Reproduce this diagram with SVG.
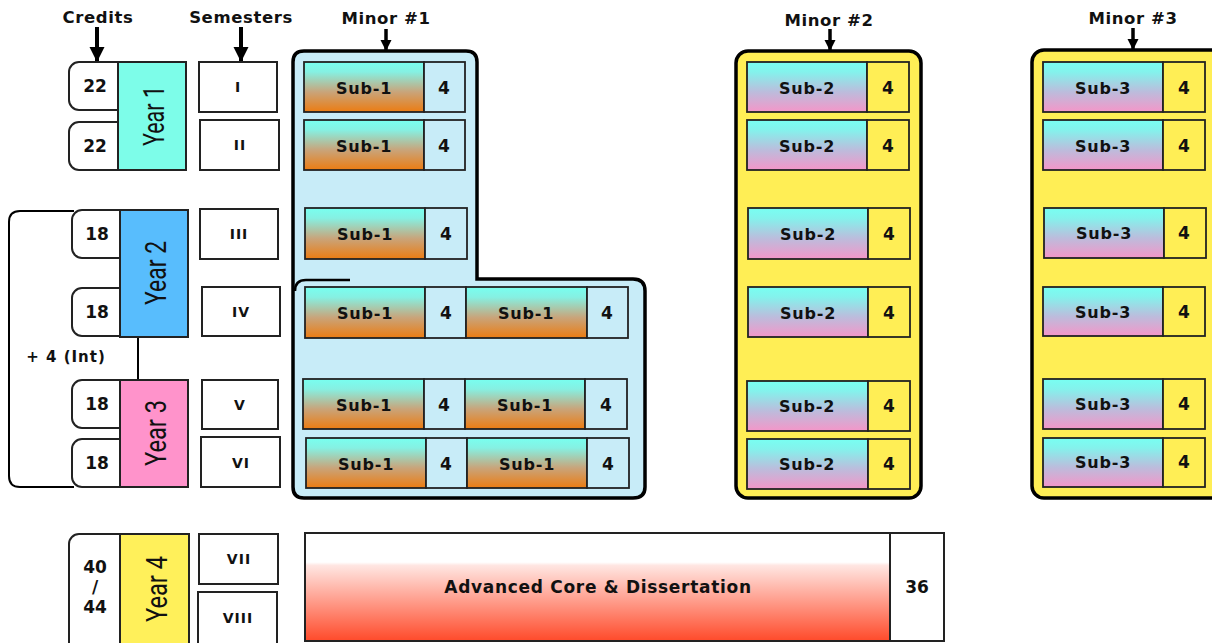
<svg xmlns="http://www.w3.org/2000/svg" width="1212" height="643" viewBox="0 0 1212 643">
<style>
.lbl{font-family:"DejaVu Sans","Liberation Sans",sans-serif;font-weight:bold;fill:#111;text-anchor:middle;dominant-baseline:central}
.hd{font-size:16.5px;letter-spacing:0.6px}
.sub{font-size:16px;letter-spacing:0.8px}
.num{font-size:17px}
.rom{font-size:14px;letter-spacing:1px}
.yr{font-family:"Roboto","Liberation Sans",sans-serif;font-weight:400;font-size:30px;fill:#111;text-anchor:middle;dominant-baseline:central}
.cell{stroke:#222;stroke-width:1.8}
.box{fill:#fff;stroke:#222;stroke-width:2}
.cred{fill:#fff;stroke:#222;stroke-width:2}
.cont{stroke:#000;stroke-width:3.5}
.g1{fill:url(#gSub1)}
.g2{fill:url(#gSub2)}
.n1{fill:#c8ecf8}
.n2{fill:#ffee55}
.conn{stroke:#000;fill:none}
</style>
<defs>
<linearGradient id="gSub1" x1="0" y1="0" x2="0" y2="1">
<stop offset="0" stop-color="#78fff0"/><stop offset="0.2" stop-color="#86f0e2"/><stop offset="0.6" stop-color="#c9a47a"/><stop offset="1" stop-color="#ec7c12"/>
</linearGradient>
<linearGradient id="gSub2" x1="0" y1="0" x2="0" y2="1">
<stop offset="0" stop-color="#78fff2"/><stop offset="0.2" stop-color="#84f2ec"/><stop offset="0.6" stop-color="#bcbcdc"/><stop offset="1" stop-color="#f496c8"/>
</linearGradient>
<linearGradient id="gCore" x1="0" y1="0" x2="0" y2="1">
<stop offset="0" stop-color="#ffffff"/><stop offset="0.27" stop-color="#ffffff"/><stop offset="0.3" stop-color="#ffe6e2"/><stop offset="1" stop-color="#ff4a2a"/>
</linearGradient>
<marker id="bigArrow" viewBox="0 0 10 10" refX="10" refY="5" markerUnits="userSpaceOnUse" markerWidth="15" markerHeight="21" orient="auto">
<path d="M0,0 L10,5 L0,10 Z" fill="#000"/>
</marker>
<marker id="smallArrow" viewBox="0 0 10 10" refX="10" refY="5" markerUnits="userSpaceOnUse" markerWidth="11" markerHeight="18" orient="auto">
<path d="M0,0 L10,5 L0,10 Z" fill="#000"/>
</marker>
</defs>

<rect width="1212" height="643" fill="#fff"/>

<!-- headers -->
<g id="headers">
<text class="lbl hd" x="98" y="17">Credits</text>
<text class="lbl hd" x="241" y="17">Semesters</text>
<text class="lbl hd" x="386" y="18">Minor #1</text>
<text class="lbl hd" x="829" y="20">Minor #2</text>
<text class="lbl hd" x="1133" y="18">Minor #3</text>
</g>

<!-- connectors -->
<g id="connectors">
<line class="conn" x1="97" y1="27" x2="97" y2="62" stroke-width="4" marker-end="url(#bigArrow)"/>
<line class="conn" x1="241" y1="27" x2="241" y2="62" stroke-width="4" marker-end="url(#bigArrow)"/>
<line class="conn" x1="386" y1="29" x2="386" y2="51" stroke-width="3.5" marker-end="url(#smallArrow)"/>
<line class="conn" x1="830" y1="29" x2="830" y2="51" stroke-width="3.5" marker-end="url(#smallArrow)"/>
<line class="conn" x1="1133" y1="28" x2="1133" y2="50" stroke-width="3.5" marker-end="url(#smallArrow)"/>
<path class="conn" d="M74,211 H20 Q9,211 9,222 V476 Q9,487 20,487 H74" stroke-width="2"/>
<line class="conn" x1="138" y1="337" x2="138" y2="380" stroke-width="2"/>
<text class="lbl" x="66" y="357" font-size="15" letter-spacing="1">+ 4 (Int)</text>
</g>

<!-- Year 1 -->
<g id="year1">
<rect class="cred" x="69" y="62" width="60" height="48" rx="10"/>
<rect class="cred" x="69" y="122" width="60" height="48" rx="10"/>
<text class="lbl num" x="95" y="86">22</text>
<text class="lbl num" x="95" y="146">22</text>
<rect x="118" y="62" width="68" height="108" fill="#7dfde9" stroke="#222" stroke-width="2"/>
<text class="yr" transform="translate(153,116) rotate(-90)" textLength="60" lengthAdjust="spacingAndGlyphs">Year 1</text>
</g>
<g id="sem1"><rect class="box" x="199" y="62" width="78" height="50"/><text class="lbl rom" x="238" y="87">I</text></g>
<g id="sem2"><rect class="box" x="200" y="120" width="79" height="50"/><text class="lbl rom" x="240" y="145">II</text></g>

<!-- Year 2 -->
<g id="year2">
<rect class="cred" x="72" y="210" width="60" height="48" rx="10"/>
<rect class="cred" x="72" y="288" width="60" height="48" rx="10"/>
<text class="lbl num" x="97" y="234">18</text>
<text class="lbl num" x="97" y="312">18</text>
<rect x="120" y="210" width="68" height="127" fill="#58bdfd" stroke="#222" stroke-width="2"/>
<text class="yr" transform="translate(155,273) rotate(-90)" textLength="64" lengthAdjust="spacingAndGlyphs">Year 2</text>
</g>
<g id="sem3"><rect class="box" x="200" y="209" width="78" height="50"/><text class="lbl rom" x="239" y="234">III</text></g>
<g id="sem4"><rect class="box" x="202" y="287" width="78" height="49"/><text class="lbl rom" x="241" y="312">IV</text></g>

<!-- Year 3 -->
<g id="year3">
<rect class="cred" x="72" y="380" width="60" height="48" rx="10"/>
<rect class="cred" x="72" y="439" width="60" height="48" rx="10"/>
<text class="lbl num" x="97" y="404">18</text>
<text class="lbl num" x="97" y="463">18</text>
<rect x="120" y="380" width="68" height="107" fill="#ff93cb" stroke="#222" stroke-width="2"/>
<text class="yr" transform="translate(155,433) rotate(-90)" textLength="66" lengthAdjust="spacingAndGlyphs">Year 3</text>
</g>
<g id="sem5"><rect class="box" x="202" y="380" width="76" height="49"/><text class="lbl rom" x="240" y="405">V</text></g>
<g id="sem6"><rect class="box" x="201" y="437" width="79" height="50"/><text class="lbl rom" x="241" y="463">VI</text></g>

<!-- Year 4 -->
<g id="year4">
<rect class="cred" x="69" y="534" width="60" height="130" rx="10"/>
<text class="lbl num" x="95" y="567">40</text>
<text class="lbl num" x="95" y="587">/</text>
<text class="lbl num" x="95" y="607">44</text>
<rect x="120" y="534" width="69" height="130" fill="#fff05a" stroke="#222" stroke-width="2"/>
<text class="yr" transform="translate(156,589) rotate(-90)" textLength="66" lengthAdjust="spacingAndGlyphs">Year 4</text>
</g>
<g id="sem7"><rect class="box" x="199" y="534" width="79" height="50"/><text class="lbl rom" x="239" y="559">VII</text></g>
<g id="sem8"><rect class="box" x="198" y="592" width="79" height="60"/><text class="lbl rom" x="238" y="618">VIII</text></g>

<!-- Minor #1 -->
<g id="minor1">
<path class="cont" fill="#c8ecf8" d="M293,62 Q293,51 304,51 H466 Q477,51 477,62 V279 H633 Q645,279 645,291 V487 Q645,498 633,498 H304 Q293,498 293,487 Z"/>
<path d="M295,291 Q295,280 306,280 H350" fill="none" stroke="#000" stroke-width="2.5"/>
<g id="m1r1"><rect class="cell g1" x="304" y="62" width="120" height="50"/><rect class="cell n1" x="424" y="62" width="41" height="50"/><text class="lbl sub" x="364" y="88">Sub-1</text><text class="lbl num" x="444" y="88">4</text></g>
<g id="m1r2"><rect class="cell g1" x="304" y="120" width="120" height="50"/><rect class="cell n1" x="424" y="120" width="41" height="50"/><text class="lbl sub" x="364" y="146">Sub-1</text><text class="lbl num" x="444" y="146">4</text></g>
<g id="m1r3"><rect class="cell g1" x="305" y="208" width="120" height="51"/><rect class="cell n1" x="425" y="208" width="42" height="51"/><text class="lbl sub" x="365" y="234">Sub-1</text><text class="lbl num" x="446" y="234">4</text></g>
<g id="m1r4"><rect class="cell g1" x="305" y="287" width="120" height="51"/><rect class="cell n1" x="425" y="287" width="41" height="51"/><text class="lbl sub" x="365" y="313">Sub-1</text><text class="lbl num" x="446" y="313">4</text>
<rect class="cell g1" x="466" y="287" width="121" height="51"/><rect class="cell n1" x="587" y="287" width="41" height="51"/><text class="lbl sub" x="526" y="313">Sub-1</text><text class="lbl num" x="607" y="313">4</text></g>
<g id="m1r5"><rect class="cell g1" x="303" y="379" width="121" height="50"/><rect class="cell n1" x="424" y="379" width="41" height="50"/><text class="lbl sub" x="364" y="405">Sub-1</text><text class="lbl num" x="444" y="405">4</text>
<rect class="cell g1" x="465" y="379" width="120" height="50"/><rect class="cell n1" x="585" y="379" width="42" height="50"/><text class="lbl sub" x="525" y="405">Sub-1</text><text class="lbl num" x="606" y="405">4</text></g>
<g id="m1r6"><rect class="cell g1" x="306" y="438" width="120" height="50"/><rect class="cell n1" x="426" y="438" width="41" height="50"/><text class="lbl sub" x="366" y="464">Sub-1</text><text class="lbl num" x="446" y="464">4</text>
<rect class="cell g1" x="467" y="438" width="120" height="50"/><rect class="cell n1" x="587" y="438" width="42" height="50"/><text class="lbl sub" x="527" y="464">Sub-1</text><text class="lbl num" x="608" y="464">4</text></g>
</g>

<!-- Minor #2 -->
<g id="minor2">
<rect class="cont" fill="#ffee55" x="736" y="51" width="185" height="447" rx="12"/>
<g id="m2r1"><rect class="cell g2" x="747" y="62" width="120" height="50"/><rect class="cell n2" x="867" y="62" width="42" height="50"/><text class="lbl sub" x="807" y="88">Sub-2</text><text class="lbl num" x="888" y="88">4</text></g>
<g id="m2r2"><rect class="cell g2" x="747" y="120" width="120" height="50"/><rect class="cell n2" x="867" y="120" width="42" height="50"/><text class="lbl sub" x="807" y="146">Sub-2</text><text class="lbl num" x="888" y="146">4</text></g>
<g id="m2r3"><rect class="cell g2" x="748" y="208" width="120" height="51"/><rect class="cell n2" x="868" y="208" width="42" height="51"/><text class="lbl sub" x="808" y="234">Sub-2</text><text class="lbl num" x="889" y="234">4</text></g>
<g id="m2r4"><rect class="cell g2" x="748" y="287" width="120" height="50"/><rect class="cell n2" x="868" y="287" width="42" height="50"/><text class="lbl sub" x="808" y="313">Sub-2</text><text class="lbl num" x="889" y="313">4</text></g>
<g id="m2r5"><rect class="cell g2" x="747" y="381" width="121" height="50"/><rect class="cell n2" x="868" y="381" width="42" height="50"/><text class="lbl sub" x="807" y="406">Sub-2</text><text class="lbl num" x="889" y="406">4</text></g>
<g id="m2r6"><rect class="cell g2" x="747" y="439" width="121" height="50"/><rect class="cell n2" x="868" y="439" width="42" height="50"/><text class="lbl sub" x="807" y="464">Sub-2</text><text class="lbl num" x="889" y="464">4</text></g>
</g>

<!-- Minor #3 -->
<g id="minor3">
<rect class="cont" fill="#ffee55" x="1032" y="50" width="200" height="448" rx="12"/>
<g id="m3r1"><rect class="cell g2" x="1043" y="62" width="120" height="50"/><rect class="cell n2" x="1163" y="62" width="42" height="50"/><text class="lbl sub" x="1103" y="88">Sub-3</text><text class="lbl num" x="1184" y="88">4</text></g>
<g id="m3r2"><rect class="cell g2" x="1043" y="120" width="120" height="50"/><rect class="cell n2" x="1163" y="120" width="42" height="50"/><text class="lbl sub" x="1103" y="146">Sub-3</text><text class="lbl num" x="1184" y="146">4</text></g>
<g id="m3r3"><rect class="cell g2" x="1044" y="208" width="120" height="50"/><rect class="cell n2" x="1164" y="208" width="42" height="50"/><text class="lbl sub" x="1104" y="233">Sub-3</text><text class="lbl num" x="1184" y="233">4</text></g>
<g id="m3r4"><rect class="cell g2" x="1043" y="287" width="120" height="49"/><rect class="cell n2" x="1163" y="287" width="42" height="49"/><text class="lbl sub" x="1103" y="312">Sub-3</text><text class="lbl num" x="1184" y="312">4</text></g>
<g id="m3r5"><rect class="cell g2" x="1043" y="379" width="120" height="50"/><rect class="cell n2" x="1163" y="379" width="42" height="50"/><text class="lbl sub" x="1103" y="404">Sub-3</text><text class="lbl num" x="1184" y="404">4</text></g>
<g id="m3r6"><rect class="cell g2" x="1043" y="438" width="120" height="49"/><rect class="cell n2" x="1163" y="438" width="42" height="49"/><text class="lbl sub" x="1103" y="462">Sub-3</text><text class="lbl num" x="1184" y="462">4</text></g>
</g>

<!-- Advanced core -->
<g id="core">
<rect x="305" y="533" width="585" height="108" fill="url(#gCore)" stroke="#222" stroke-width="2"/>
<rect x="890" y="533" width="54" height="108" fill="#fff" stroke="#222" stroke-width="2"/>
<text class="lbl" x="598" y="587" font-size="17" letter-spacing="0.7">Advanced Core &amp; Dissertation</text>
<text class="lbl num" x="917" y="587">36</text>
</g>
</svg>
